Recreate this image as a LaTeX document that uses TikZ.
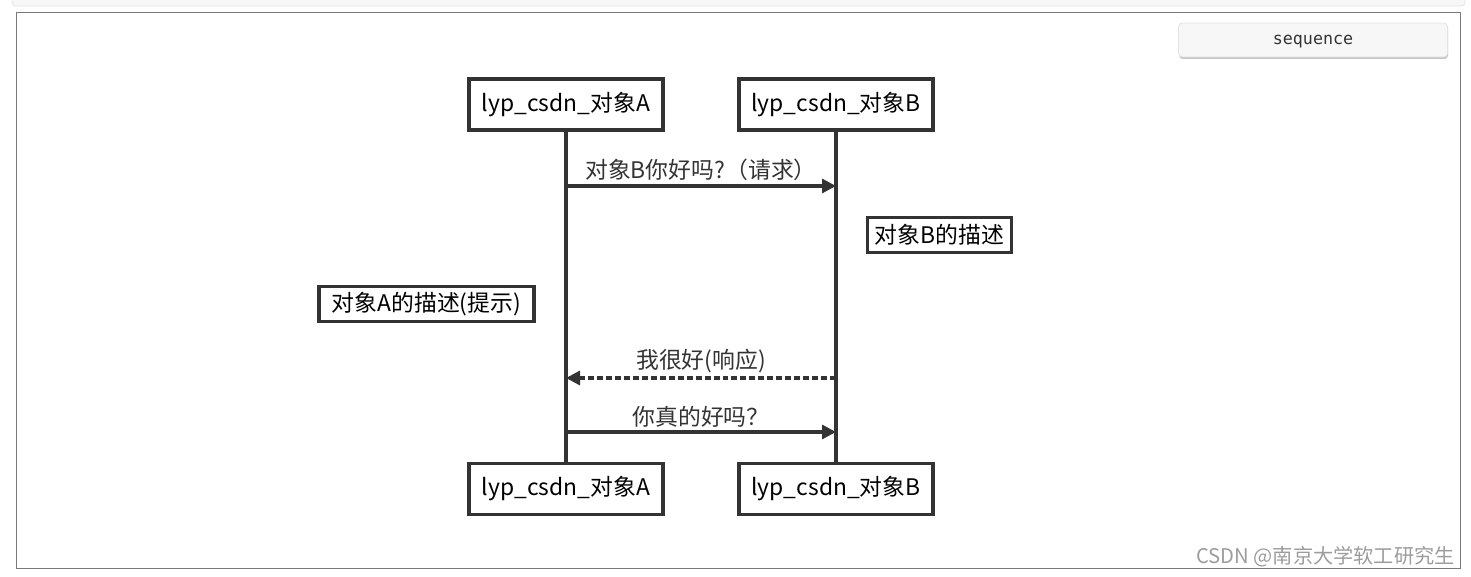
\documentclass[tikz,border=0pt]{standalone}
\usepackage{fontspec}
\newfontfamily\cjk{Noto Sans CJK SC}
\newfontfamily\btnfont{DejaVu Sans Mono}
\usetikzlibrary{arrows.meta}
\definecolor{linegray}{HTML}{333333}
\definecolor{framegray}{HTML}{7A7A7A}
\definecolor{btnfill}{HTML}{F7F7F7}
\definecolor{btnedge}{HTML}{E3E3E3}
\definecolor{markgray}{HTML}{9C9C9C}
\begin{document}
\begin{tikzpicture}[x=0.02cm, y=-0.02cm,
  objbox/.style={draw=linegray, line width=2.1pt, fill=white, minimum width=3.88cm, minimum height=1.02cm, inner sep=0pt, font=\cjk\fontsize{13}{15}\selectfont},
  notebox/.style={draw=linegray, line width=1.8pt, fill=white, minimum height=0.7cm, inner sep=0pt, font=\cjk\fontsize{13}{15}\selectfont},
  lifeline/.style={draw=linegray, line width=1.8pt},
  msg/.style={draw=linegray, line width=1.8pt, -{Triangle[length=0.28cm,width=0.28cm]}},
  reply/.style={msg, dash pattern=on 3.4pt off 1.7pt},
  msglabel/.style={midway, above, inner sep=2pt, text=linegray, font=\cjk\fontsize{13}{15}\selectfont}]
\useasboundingbox (0,0) rectangle (1471,577);

% page strip and frame
\draw[fill=btnfill, draw=btnedge, rounded corners=2pt] (12,-5) rectangle (1465,6);
\draw[framegray, line width=0.5pt] (16,12) rectangle (1460,568);

% sequence button
\fill[black!22, rounded corners=2pt] (1179,25) rectangle (1448,59);
\node[draw=btnedge, fill=btnfill, rounded corners=2pt, minimum width=5.38cm, minimum height=0.68cm] (btn) at (1313,40) {};
\node[anchor=base, inner sep=0pt, text=linegray, font=\btnfont\fontsize{9.5}{11}\selectfont] (btntext) at (1313,44.5) {sequence};

% objects
\node[objbox] (topA) at (566,104.5) {lyp\_csdn\_对象A};
\node[objbox] (topB) at (836,104.5) {lyp\_csdn\_对象B};
\node[objbox] (botA) at (566,489) {lyp\_csdn\_对象A};
\node[objbox] (botB) at (836,489) {lyp\_csdn\_对象B};

% lifelines
\draw[lifeline] (topA) -- (botA);
\draw[lifeline] (topB) -- (botB);

% notes
\node[notebox, minimum width=2.88cm] (noteB) at (939.5,235) {对象B的描述};
\node[notebox, minimum width=4.3cm] (noteA) at (426.5,304) {对象A的描述(提示)};

% messages
\coordinate (askA) at (566,186);
\coordinate (askB) at (836,186);
\coordinate (answerB) at (836,378);
\coordinate (answerA) at (566,378);
\coordinate (againA) at (566,432);
\coordinate (againB) at (836,432);
\draw[msg] (askA) -- (askB) node[msglabel] {对象B你好吗?（请求）};
\draw[reply] (answerB) -- (answerA) node[msglabel] {我很好(响应)};
\draw[msg] (againA) -- (againB) node[msglabel] {你真的好吗？};

% watermark
\node[anchor=east, inner sep=0pt, text=markgray, font=\cjk\fontsize{11.5}{13}\selectfont] (mark) at (1455,557) {CSDN @南京大学软工研究生};
\end{tikzpicture}
\end{document}
